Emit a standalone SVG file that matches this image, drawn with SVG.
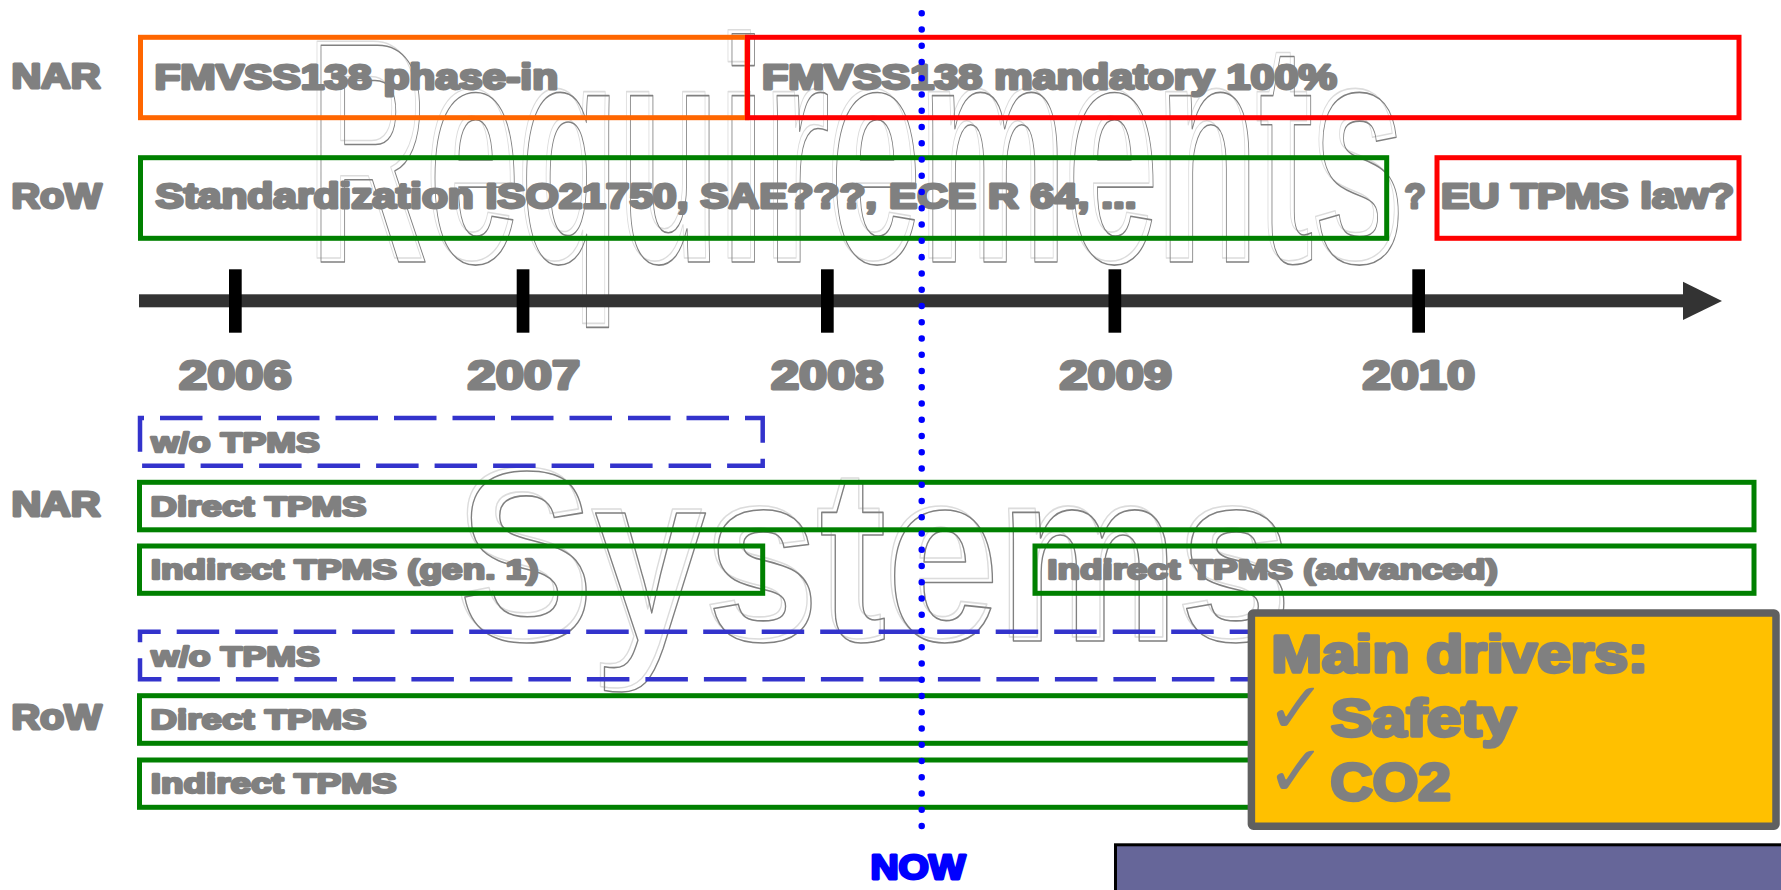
<svg xmlns="http://www.w3.org/2000/svg" width="1781" height="890" viewBox="0 0 1781 890">
<defs>
<style>
text { font-family: "Liberation Sans", Arial, sans-serif; font-weight: bold; fill: #808080; stroke: #808080; stroke-linejoin: round; }
.lbl { font-size: 34.5px; stroke-width: 2.8; }
.top { font-size: 34.5px; stroke-width: 2.8; }
.yr { font-size: 40px; stroke-width: 3; }
.sys { font-size: 28.5px; stroke-width: 2.4; }
.drv { font-size: 51px; stroke-width: 3.5; }
.now { font-size: 35px; stroke-width: 2.8; fill: #0000FF; stroke: #0000FF; }
.box { fill: none; stroke-width: 5; }
.orange { stroke: #FF6600; }
.red { stroke: #FF0000; }
.green { stroke: #008000; }
.dash { fill: none; stroke: #3333CC; stroke-width: 4.5; stroke-dasharray: 42.5 16; }
.wm { font-weight: bold; fill: none; stroke-width: 1.6; }
.wmL { stroke: #DCDCDC; }
.wmD { stroke: #808080; }
.tick { fill: #000000; }
.chk { font-family: "DejaVu Sans", sans-serif; font-weight: normal; font-size: 72px; fill: #808080; stroke: none; }
</style>
</defs>
<rect x="0" y="0" width="1781" height="890" fill="#FFFFFF"/>

<g id="watermark-requirements">
<text class="wm wmL" x="306" y="258" font-size="315" textLength="1095" lengthAdjust="spacingAndGlyphs">Requirements</text>
<text class="wm wmD" x="310" y="262" font-size="315" textLength="1095" lengthAdjust="spacingAndGlyphs">Requirements</text>
</g>
<g id="watermark-systems">
<text class="wm wmL" x="455" y="637" font-size="244" textLength="833" lengthAdjust="spacingAndGlyphs">Systems</text>
<text class="wm wmD" x="459" y="641" font-size="244" textLength="833" lengthAdjust="spacingAndGlyphs">Systems</text>
</g>

<g id="label-nar-top"><text class="lbl" x="11.4" y="87.9" textLength="89.2" lengthAdjust="spacingAndGlyphs">NAR</text></g>
<g id="label-row-top"><text class="lbl" x="11.4" y="207.9" textLength="90.2" lengthAdjust="spacingAndGlyphs">RoW</text></g>

<g id="fmvss-phase-in">
<rect class="box orange" x="140.5" y="37.3" width="606.5" height="80.4"/>
<text class="top" x="154.4" y="88.6" textLength="403.7" lengthAdjust="spacingAndGlyphs">FMVSS138 phase-in</text>
</g>
<g id="fmvss-mandatory">
<rect class="box red" x="747.5" y="37.3" width="991.5" height="80.4"/>
<text class="top" x="761.9" y="88.6" textLength="574.9" lengthAdjust="spacingAndGlyphs">FMVSS138 mandatory 100%</text>
</g>
<g id="standardization">
<rect class="box green" x="140.5" y="157.7" width="1246.2" height="80.6"/>
<text class="top" x="155.4" y="207.6" textLength="981.2" lengthAdjust="spacingAndGlyphs">Standardization ISO21750, SAE???, ECE R 64, ...</text>
</g>
<g id="question"><text class="top" x="1404.5" y="207.6">?</text></g>
<g id="eu-law">
<rect class="box red" x="1437" y="157.7" width="302" height="80.6"/>
<text class="top" x="1440.9" y="207.6" textLength="293.2" lengthAdjust="spacingAndGlyphs">EU TPMS law?</text>
</g>

<g id="connectors">
<rect x="139" y="294.3" width="1546" height="13" fill="#333333"/>
<polygon points="1683,281.7 1722,301 1683,320" fill="#333333"/>
<rect class="tick" x="229" y="269.3" width="12.7" height="63.4"/>
<rect class="tick" x="516.7" y="269.3" width="12.7" height="63.4"/>
<rect class="tick" x="821" y="269.3" width="12.7" height="63.4"/>
<rect class="tick" x="1108.5" y="269.3" width="12.7" height="63.4"/>
<rect class="tick" x="1412.3" y="269.3" width="12.7" height="63.4"/>
</g>

<g id="years">
<text class="yr" x="179.1" y="388.5" textLength="112.5" lengthAdjust="spacingAndGlyphs">2006</text>
<text class="yr" x="467.6" y="388.5" textLength="112.5" lengthAdjust="spacingAndGlyphs">2007</text>
<text class="yr" x="770.9" y="388.5" textLength="112.5" lengthAdjust="spacingAndGlyphs">2008</text>
<text class="yr" x="1059.4" y="388.5" textLength="112.5" lengthAdjust="spacingAndGlyphs">2009</text>
<text class="yr" x="1362.5" y="388.5" textLength="112.5" lengthAdjust="spacingAndGlyphs">2010</text>
</g>

<g id="nar-wo-tpms">
<rect class="dash" x="140" y="418" width="622.7" height="47.7" stroke-dashoffset="38.5"/>
<text class="sys" x="151.2" y="451.5" textLength="168.6" lengthAdjust="spacingAndGlyphs">w/o TPMS</text>
</g>
<g id="label-nar-bottom"><text class="lbl" x="11.4" y="515.9" textLength="89.2" lengthAdjust="spacingAndGlyphs">NAR</text></g>
<g id="nar-direct">
<rect class="box green" x="139.5" y="482.3" width="1614.5" height="47.5"/>
<text class="sys" x="150.6" y="515.5" textLength="215.9" lengthAdjust="spacingAndGlyphs">Direct TPMS</text>
</g>
<g id="nar-indirect-gen1">
<rect class="box green" x="139.5" y="546" width="623.2" height="47.3"/>
<text class="sys" x="150.7" y="578.8" textLength="387.9" lengthAdjust="spacingAndGlyphs">Indirect TPMS (gen. 1)</text>
</g>
<g id="nar-indirect-advanced">
<rect class="box green" x="1035" y="546" width="719" height="47.3"/>
<text class="sys" x="1047.2" y="578.8" textLength="450.6" lengthAdjust="spacingAndGlyphs">Indirect TPMS (advanced)</text>
</g>

<g id="row-wo-tpms">
<rect class="dash" x="140" y="631.7" width="1614" height="47.6" stroke-dashoffset="21.8"/>
<text class="sys" x="151.2" y="665.5" textLength="168.6" lengthAdjust="spacingAndGlyphs">w/o TPMS</text>
</g>
<g id="label-row-bottom"><text class="lbl" x="11.4" y="729.3" textLength="90.2" lengthAdjust="spacingAndGlyphs">RoW</text></g>
<g id="row-direct">
<rect class="box green" x="139.5" y="695.7" width="1614.5" height="47.6"/>
<text class="sys" x="150.6" y="728.8" textLength="215.9" lengthAdjust="spacingAndGlyphs">Direct TPMS</text>
</g>
<g id="row-indirect">
<rect class="box green" x="139.5" y="760" width="1614.5" height="47.3"/>
<text class="sys" x="150.7" y="793.1" textLength="245.8" lengthAdjust="spacingAndGlyphs">Indirect TPMS</text>
</g>

<g id="now-line">
<path d="M921.7 13.3 V842.3" fill="none" stroke="#0000FF" stroke-width="6.5" stroke-linecap="round" stroke-dasharray="0 16.255"/>
<text class="now" x="870.4" y="879.3" textLength="95.2" lengthAdjust="spacingAndGlyphs">NOW</text>
</g>

<g id="main-drivers">
<rect x="1251.4" y="613" width="524.6" height="213.2" rx="2" fill="#FFC000" stroke="#606060" stroke-width="7.5"/>
<text class="drv" x="1271.5" y="671.5" textLength="376.7" lengthAdjust="spacingAndGlyphs">Main drivers:</text>
<text class="chk" x="1266" y="733">✓</text>
<text class="drv" x="1331" y="735.5" textLength="185" lengthAdjust="spacingAndGlyphs">Safety</text>
<text class="chk" x="1266" y="796">✓</text>
<text class="drv" x="1330.6" y="800" textLength="120" lengthAdjust="spacingAndGlyphs">CO2</text>
</g>

<g id="purple-box">
<rect x="1115.5" y="844.8" width="700" height="100" fill="#666699" stroke="#000000" stroke-width="3"/>
</g>
</svg>
